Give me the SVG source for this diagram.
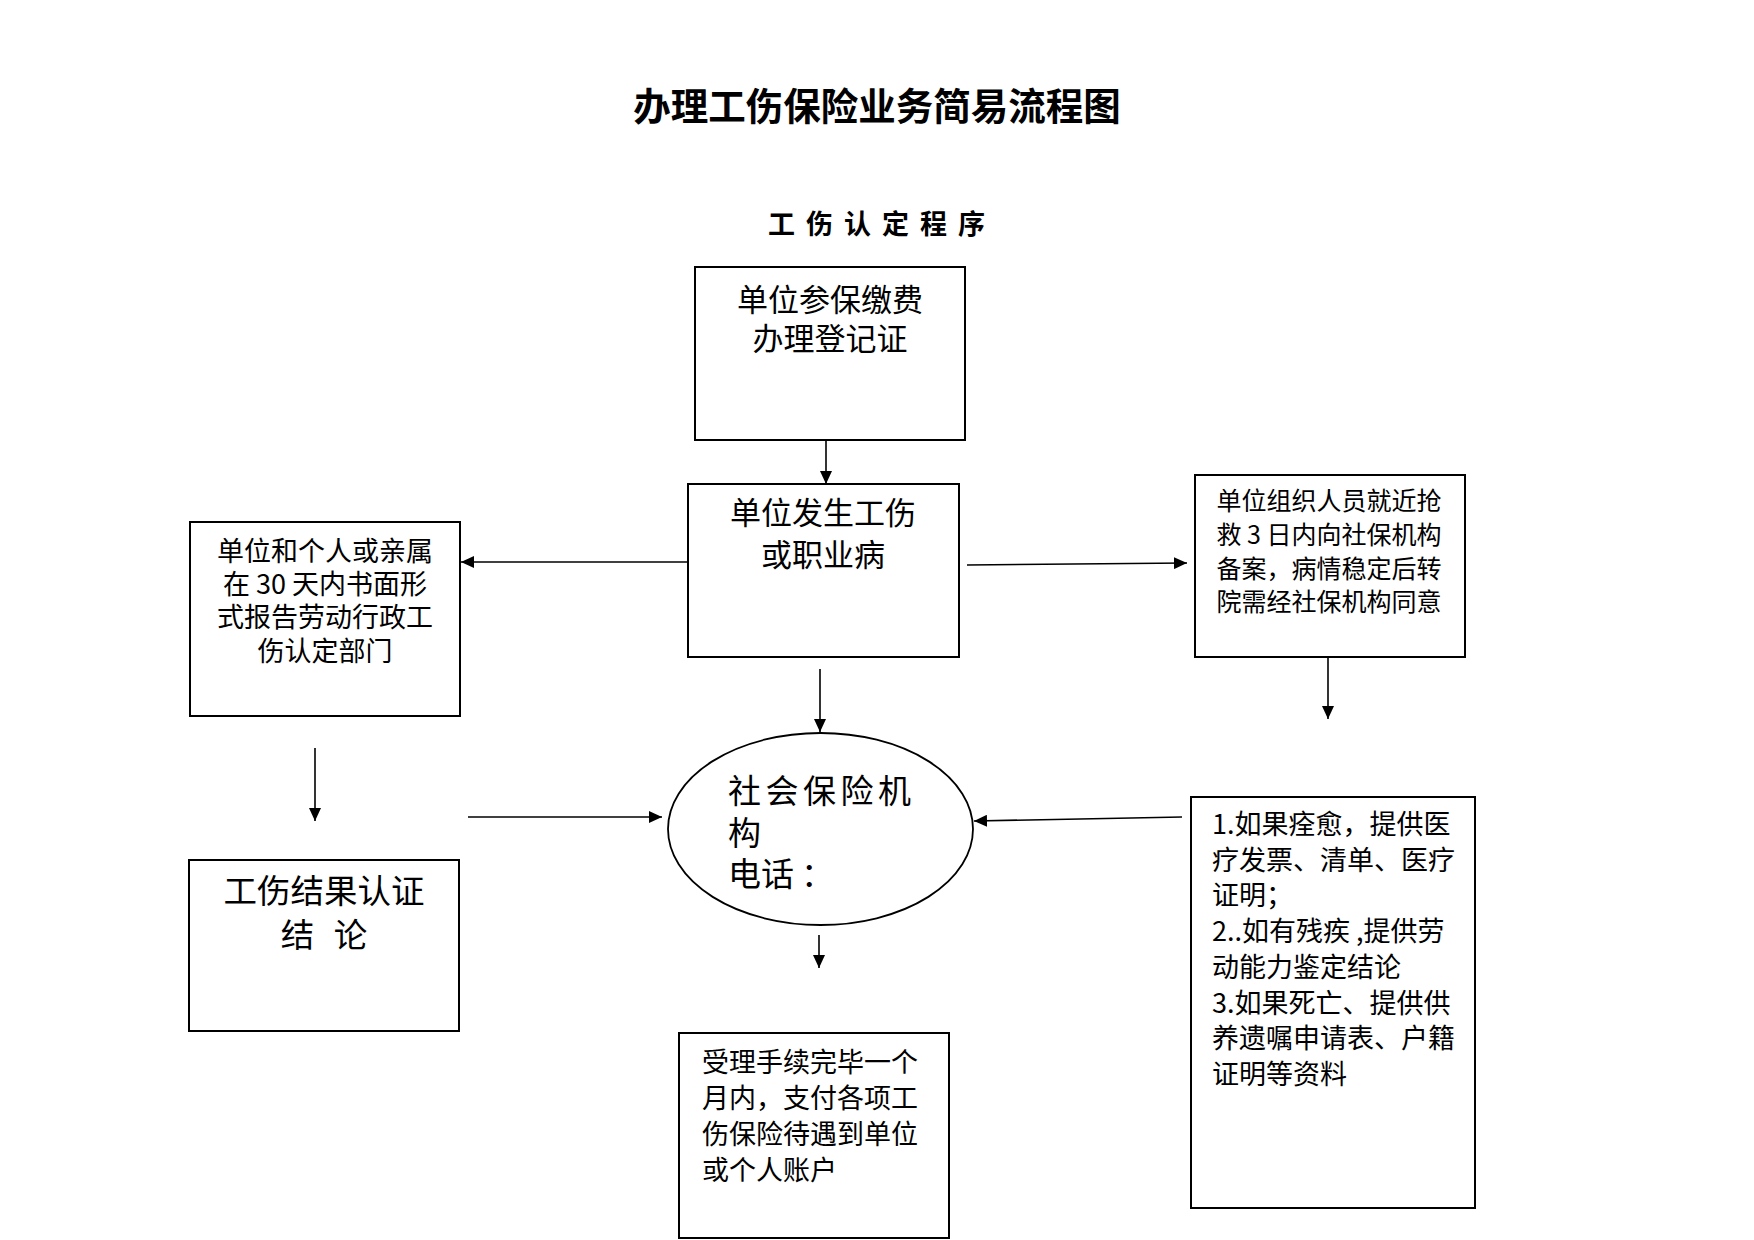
<svg xmlns="http://www.w3.org/2000/svg" width="1754" height="1240" viewBox="0 0 1754 1240">
<style>
  text { font-family: "Noto Sans CJK SC", "Noto Sans", sans-serif; fill: #000; }
  .title { font-size: 37.5px; font-weight: bold; text-anchor: middle; }
  .sub { font-size: 27px; font-weight: bold; text-anchor: middle; letter-spacing: 11px; }
  .box { fill: #fff; stroke: #000; stroke-width: 2; }
  .ell { fill: #fff; stroke: #000; stroke-width: 1.8; }
  .c { text-anchor: middle; }
  .conn line { stroke: #000; stroke-width: 1.6; marker-end: url(#arr); }
</style>
<defs>
  <marker id="arr" markerUnits="userSpaceOnUse" markerWidth="13" markerHeight="12" refX="13" refY="6" orient="auto">
    <path d="M0,0 L13,6 L0,12 z" fill="#000"/>
  </marker>
</defs>
<rect width="1754" height="1240" fill="#fff"/>
<text class="title" x="877" y="120">办理工伤保险业务简易流程图</text>
<text class="sub" x="882" y="234">工伤认定程序</text>

<g id="n-register">
  <rect class="box" x="695" y="267" width="270" height="173"/>
  <text class="c" x="830" y="311" font-size="31">单位参保缴费</text>
  <text class="c" x="830" y="350" font-size="31">办理登记证</text>
</g>
<g id="n-injury">
  <rect class="box" x="688" y="484" width="271" height="173"/>
  <text class="c" x="823" y="524" font-size="31">单位发生工伤</text>
  <text class="c" x="823" y="566" font-size="31">或职业病</text>
</g>
<g id="n-report">
  <rect class="box" x="190" y="522" width="270" height="194"/>
  <text class="c" x="325" y="561" font-size="27">单位和个人或亲属</text>
  <text class="c" x="325" y="594" font-size="27">在 30 天内书面形</text>
  <text class="c" x="325" y="627" font-size="27">式报告劳动行政工</text>
  <text class="c" x="325" y="661" font-size="27">伤认定部门</text>
</g>
<g id="n-rescue">
  <rect class="box" x="1195" y="475" width="270" height="182"/>
  <text class="c" x="1329" y="510" font-size="25">单位组织人员就近抢</text>
  <text class="c" x="1329" y="544" font-size="25">救 3 日内向社保机构</text>
  <text class="c" x="1329" y="578" font-size="25">备案，病情稳定后转</text>
  <text class="c" x="1329" y="611" font-size="25">院需经社保机构同意</text>
</g>
<g id="n-result">
  <rect class="box" x="189" y="860" width="270" height="171"/>
  <text class="c" x="324" y="903" font-size="33.5">工伤结果认证</text>
  <text class="c" x="324" y="947" font-size="33.5" word-spacing="12">结 论</text>
</g>
<g id="n-agency">
  <ellipse class="ell" cx="820.5" cy="829" rx="152.5" ry="96"/>
  <text x="728" y="803" font-size="33" letter-spacing="4.5">社会保险机</text>
  <text x="728" y="845" font-size="33">构</text>
  <text x="728" y="886" font-size="33">电话<tspan dx="7">：</tspan></text>
</g>
<g id="n-materials">
  <rect class="box" x="1191" y="797" width="284" height="411"/>
  <text x="1212" y="834" font-size="27">1.如果痊愈，提供医</text>
  <text x="1212" y="869.7" font-size="27">疗发票、清单、医疗</text>
  <text x="1212" y="905.4" font-size="27">证明；</text>
  <text x="1212" y="941.1" font-size="27">2..如有残疾 ,提供劳</text>
  <text x="1212" y="976.8" font-size="27">动能力鉴定结论</text>
  <text x="1212" y="1012.5" font-size="27">3.如果死亡、提供供</text>
  <text x="1212" y="1048.2" font-size="27">养遗嘱申请表、户籍</text>
  <text x="1212" y="1083.9" font-size="27">证明等资料</text>
</g>
<g id="n-payment">
  <rect class="box" x="679" y="1033" width="270" height="205"/>
  <text x="702" y="1072" font-size="27">受理手续完毕一个</text>
  <text x="702" y="1108" font-size="27">月内，支付各项工</text>
  <text x="702" y="1144" font-size="27">伤保险待遇到单位</text>
  <text x="702" y="1180" font-size="27">或个人账户</text>
</g>

<g id="connectors" class="conn">
  <line x1="826" y1="441" x2="826" y2="484"/>
  <line x1="687" y1="562" x2="461" y2="562"/>
  <line x1="967" y1="565" x2="1187" y2="563"/>
  <line x1="820" y1="669" x2="820" y2="732"/>
  <line x1="1328" y1="658" x2="1328" y2="719"/>
  <line x1="315" y1="748" x2="315" y2="821"/>
  <line x1="468" y1="817" x2="662" y2="817"/>
  <line x1="1182" y1="817" x2="974" y2="821"/>
  <line x1="819" y1="935" x2="819" y2="968"/>
</g>
</svg>
